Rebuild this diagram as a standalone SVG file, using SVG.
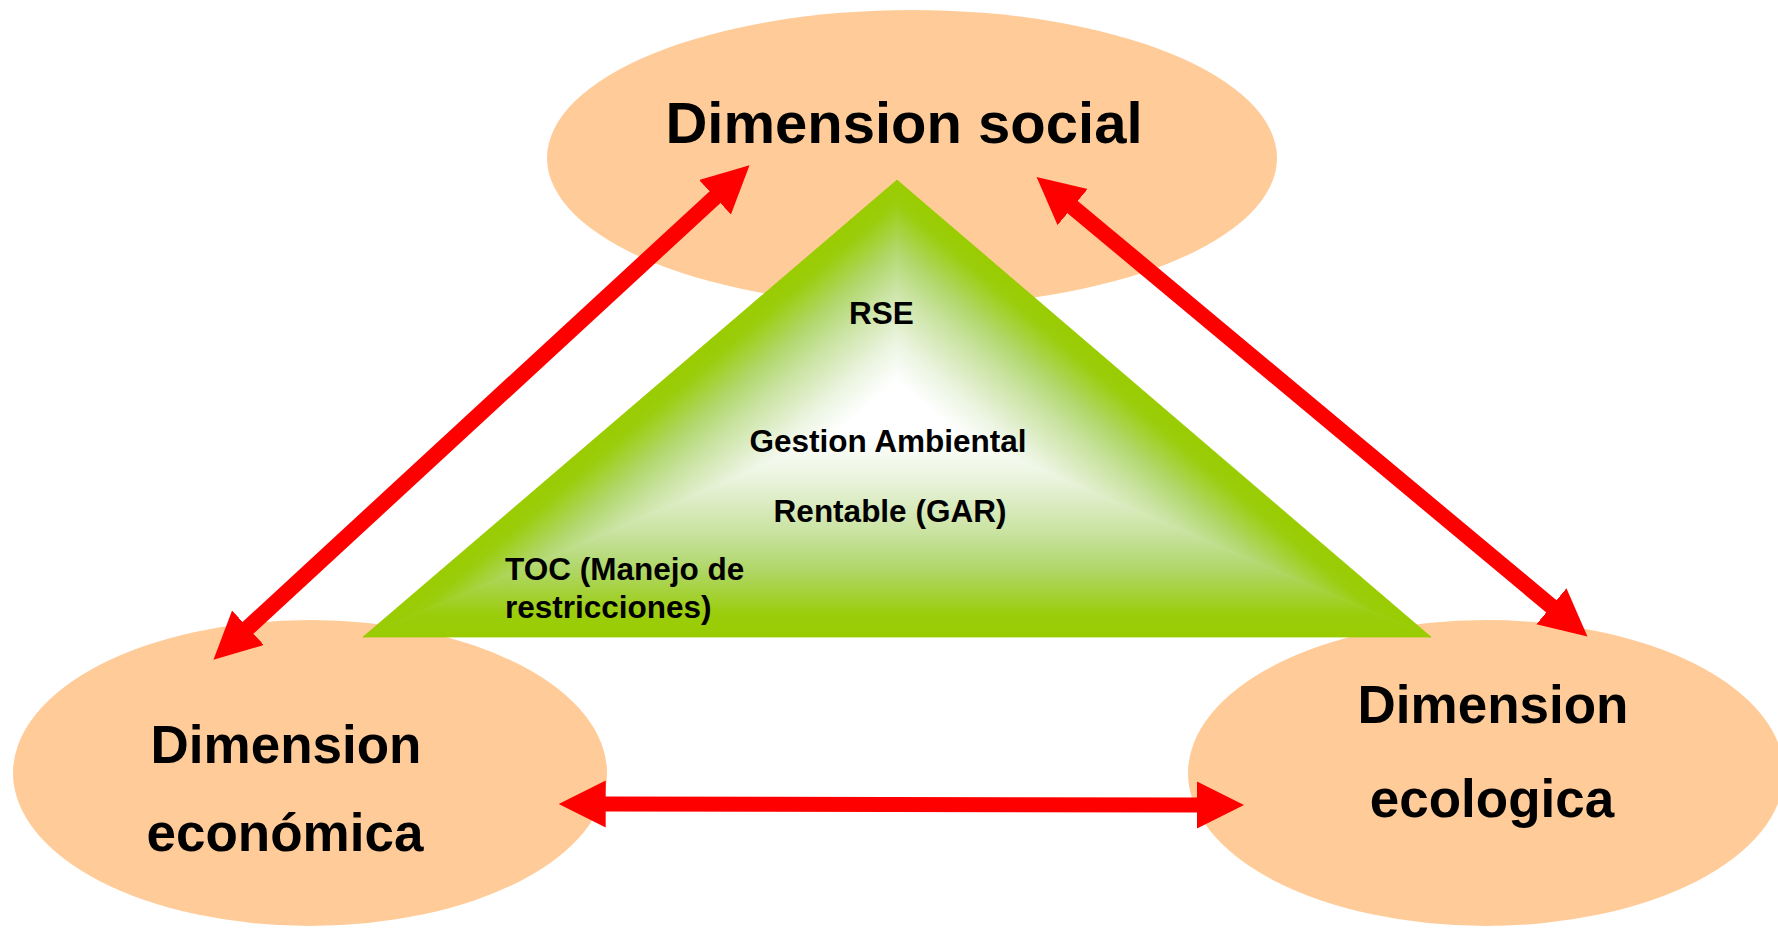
<svg xmlns="http://www.w3.org/2000/svg" width="1778" height="928" viewBox="0 0 1778 928">
  <style>
    .node { fill: #FFCC99; }
    .big { font-family: "Liberation Sans", Arial, sans-serif; font-weight: bold; font-size: 53px; fill: #000; text-anchor: middle; }
    .title { font-size: 58px; }
    .small { font-family: "Liberation Sans", Arial, sans-serif; font-weight: bold; font-size: 31.5px; fill: #000; }
    .arrow { stroke: #FF0000; fill: none; marker-start: url(#head); marker-end: url(#head); }
  </style>
  <defs>
    <marker id="head" markerUnits="userSpaceOnUse" markerWidth="50" markerHeight="50" refX="2" refY="23.5" orient="auto-start-reverse" viewBox="0 0 50 50">
      <path d="M0,0 L47,23.5 L0,47 Z" fill="#FF0000"/>
    </marker>
    <linearGradient id="gB" gradientUnits="userSpaceOnUse" x1="897" y1="637" x2="897" y2="408.5">
      <stop offset="0" stop-color="#99CC00"/>
      <stop offset="0.1" stop-color="#9BCD0C"/>
      <stop offset="0.3" stop-color="#B0D76A"/>
      <stop offset="0.45" stop-color="#C8E29E"/>
      <stop offset="0.7" stop-color="#EBF4E0"/>
      <stop offset="0.88" stop-color="#FFFFFF"/>
      <stop offset="1" stop-color="#FFFFFF"/>
    </linearGradient>
    <linearGradient id="gL" href="#gB" xlink:href="#gB" xmlns:xlink="http://www.w3.org/1999/xlink" gradientUnits="userSpaceOnUse" x1="784.1" y1="276.6" x2="897" y2="408.5"/>
    <linearGradient id="gR" href="#gB" xlink:href="#gB" xmlns:xlink="http://www.w3.org/1999/xlink" gradientUnits="userSpaceOnUse" x1="1009.9" y1="276.6" x2="897" y2="408.5"/>
  </defs>

  <g id="node-social">
    <ellipse class="node" cx="912" cy="158" rx="365" ry="148"/>
  </g>
  <g id="node-economica">
    <ellipse class="node" cx="310" cy="773" rx="297" ry="153"/>
  </g>
  <g id="node-ecologica">
    <ellipse class="node" cx="1486" cy="773" rx="298" ry="153"/>
  </g>

  <g id="node-triangle">
    <polygon points="363,637 1431,637 897,408.5" fill="url(#gB)" stroke="url(#gB)" stroke-width="0.8"/>
    <polygon points="897,180 363,637 897,408.5" fill="url(#gL)" stroke="url(#gL)" stroke-width="0.8"/>
    <polygon points="897,180 1431,637 897,408.5" fill="url(#gR)" stroke="url(#gR)" stroke-width="0.8"/>
    <text class="small" x="881.5" y="324" text-anchor="middle">RSE</text>
    <text class="small" x="888" y="452" text-anchor="middle">Gestion Ambiental</text>
    <text class="small" x="890" y="522" text-anchor="middle">Rentable (GAR)</text>
    <text class="small" x="505" y="580">TOC (Manejo de</text>
    <text class="small" x="505" y="618">restricciones)</text>
  </g>

  <g id="connectors">
    <line class="arrow" stroke-width="16" x1="716.45" y1="195.86" x2="246.55" y2="629.14"/>
    <line class="arrow" stroke-width="16" x1="1071.1" y1="205.8" x2="1552.9" y2="607.6"/>
    <line class="arrow" stroke-width="15" x1="603.7" y1="804.1" x2="1199" y2="804.9"/>
  </g>

  <g id="labels">
    <text class="big title" x="904" y="143">Dimension social</text>
    <text class="big" x="286" y="763">Dimension</text>
    <text class="big" x="285" y="851">económica</text>
    <text class="big" x="1493" y="723">Dimension</text>
    <text class="big" x="1492" y="817">ecologica</text>
  </g>
</svg>
